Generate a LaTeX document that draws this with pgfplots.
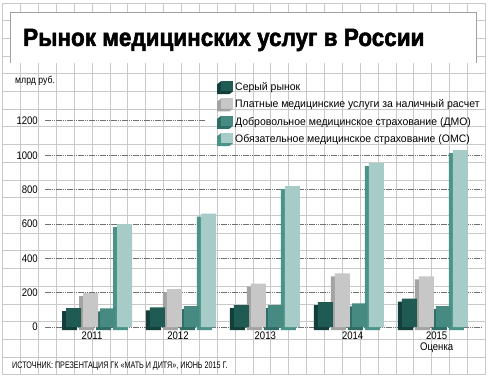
\documentclass[border=0pt]{standalone}
\usepackage{pgfplots}
\pgfplotsset{compat=1.18}
\usepackage{pgfplotstable}
\usepackage{fontspec}
\setmainfont{Liberation Sans}
\newfontfamily\narrowfont{Liberation Sans}[FakeStretch=0.87]
\newfontfamily\legfont{Liberation Sans}[FakeStretch=0.97]
\newfontfamily\srcfont{Liberation Sans}[FakeStretch=0.755]
\newfontfamily\titlefont{Liberation Sans Bold}[FakeStretch=0.9,FakeBold=2]
\definecolor{bggrid}{HTML}{C9C9C9}
\definecolor{dashc}{HTML}{707070}
\definecolor{darkF}{HTML}{1F5A53}
\definecolor{darkS}{HTML}{143E39}
\definecolor{greyF}{HTML}{C7C7C7}
\definecolor{greyS}{HTML}{A3A3A3}
\definecolor{dmoF}{HTML}{468A81}
\definecolor{dmoS}{HTML}{2F6D65}
\definecolor{omsF}{HTML}{A7CBC7}
\definecolor{omsS}{HTML}{4A9389}
\pgfplotstableread{
x dark paid dmo oms
0 110 197 108 600
1 115 220 122 660
2 128 253 128 820
3 145 313 138 955
4 165 295 122 1030
}\data
\newcommand{\cubeicon}[2]{%
  \fill[#2] (4pt,6.5pt) -- (0pt,3.5pt) -- (0pt,-6.5pt) -- (12pt,-6.5pt) -- (16pt,-3.5pt) -- (4pt,-3.5pt) -- cycle;
  \fill[#1] (4pt,-3.5pt) rectangle (16pt,6.5pt);}
\begin{document}
\begin{tikzpicture}
\path[use as bounding box] (0pt,0pt) rectangle (489pt,380pt);
\fill[white] (0pt,0pt) rectangle (489pt,380pt);
% graph-paper background
\foreach \i in {0,...,27} \draw[bggrid, line width=0.8pt] ({2.8pt+\i*17.87pt},{5.3pt}) -- ({2.8pt+\i*17.87pt},{377pt});
\foreach \j in {0,...,21} \draw[bggrid, line width=0.8pt] (2.8pt,{377pt-\j*17.7pt}) -- (485.3pt,{377pt-\j*17.7pt});
% title box
\fill[white] (10pt,317pt) rectangle (476.5pt,368pt);
\draw[bggrid!80!black, line width=0.7pt] (10pt,317pt) -- (10pt,368pt) -- (476.5pt,368pt) -- (476.5pt,317pt);
\node[anchor=base west, inner sep=0pt] at (23pt,334pt) {\titlefont\fontsize{25}{30}\selectfont Рынок медицинских услуг в России};
\node[anchor=base west, inner sep=0pt] at (15pt,296pt) {\narrowfont\fontsize{10}{12}\selectfont млрд руб.};
\node[anchor=base west, inner sep=0pt] at (12pt,12pt) {\srcfont\fontsize{9.5}{11}\selectfont ИСТОЧНИК: ПРЕЗЕНТАЦИЯ ГК «МАТЬ И ДИТЯ», ИЮНЬ 2015 Г.};
\begin{axis}[
  at={(45pt,53pt)}, anchor=south west, scale only axis,
  width=437pt, height=206pt,
  xmin=-0.643, xmax=4.56, ymin=0, ymax=1200, clip=false,
  axis line style={draw=none}, major tick length=0pt,
  ytick={0,200,...,1000}, extra y ticks={1200},
  extra y tick style={grid=none},
  ymajorgrids,
  major grid style={dashc, line width=1pt, dash pattern=on 1.6pt off 0.6pt},
  xtick={-0.083,0.94,1.98,3.02,4.02},
  xticklabels={2011,2012,2013,2014,{2015\\Оценка}},
  xticklabel style={font=\narrowfont\fontsize{11}{11}\selectfont, align=center, anchor=north, inner sep=0pt, yshift=-4.5pt},
  yticklabel style={font=\narrowfont\fontsize{11}{11}\selectfont, anchor=east, inner sep=0pt, xshift=-7pt},
  /pgf/number format/assume math mode=true,
  /pgf/number format/1000 sep={},
  legend cell align=left,
  legend style={at={(0.3867,1.204)}, anchor=north west, draw=none, fill=none,
    font=\legfont\fontsize{10.8}{12}\selectfont, row sep=4.3pt, column sep=1pt,
    nodes={inner sep=1pt, text height=7.5pt, text depth=2pt}},
]
\draw[dashc, line width=1pt, dash pattern=on 1.6pt off 0.6pt] (axis cs:-0.643,1200) -- (axis cs:1.262,1200);
% back plates (3D sides)
\addplot[ybar, bar width=15pt, bar shift=-25.5pt, fill=darkS, draw=none, xshift=-4pt, yshift=-3pt, forget plot] table[x=x,y=dark] {\data};
\addplot[ybar, bar width=15pt, bar shift=-8.5pt, fill=greyS, draw=none, xshift=-4pt, yshift=-3pt, forget plot] table[x=x,y=paid] {\data};
\addplot[ybar, bar width=15pt, bar shift=8.5pt, fill=dmoS, draw=none, xshift=-4pt, yshift=-3pt, forget plot] table[x=x,y=dmo] {\data};
\addplot[ybar, bar width=15pt, bar shift=25.5pt, fill=omsS, draw=none, xshift=-4pt, yshift=-3pt, forget plot] table[x=x,y=oms] {\data};
% fronts
\addplot[ybar, bar width=15pt, bar shift=-25.5pt, fill=darkF, draw=none, legend image code/.code={\cubeicon{darkF}{darkS}}] table[x=x,y=dark] {\data};
\addlegendentry{Серый рынок}
\addplot[ybar, bar width=15pt, bar shift=-8.5pt, fill=greyF, draw=none, legend image code/.code={\cubeicon{greyF}{greyS}}] table[x=x,y=paid] {\data};
\addlegendentry{Платные медицинские услуги за наличный расчет}
\addplot[ybar, bar width=15pt, bar shift=8.5pt, fill=dmoF, draw=none, legend image code/.code={\cubeicon{dmoF}{dmoS}}] table[x=x,y=dmo] {\data};
\addlegendentry{Добровольное медицинское страхование (ДМО)}
\addplot[ybar, bar width=15pt, bar shift=25.5pt, fill=omsF, draw=none, legend image code/.code={\cubeicon{omsF}{omsS}}] table[x=x,y=oms] {\data};
\addlegendentry{Обязательное медицинское страхование (ОМС)}
\end{axis}
\end{tikzpicture}
\end{document}
